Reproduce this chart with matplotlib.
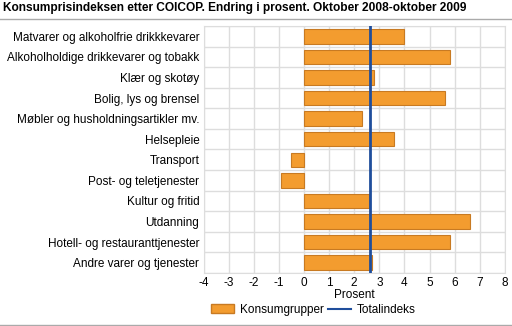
import matplotlib.pyplot as plt
import numpy as np
from matplotlib.lines import Line2D
from matplotlib.patches import Patch

categories = [
    "Matvarer og alkoholfrie drikkkevarer",
    "Alkoholholdige drikkevarer og tobakk",
    "Klær og skotøy",
    "Bolig, lys og brensel",
    "Møbler og husholdningsartikler mv.",
    "Helsepleie",
    "Transport",
    "Post- og teletjenester",
    "Kultur og fritid",
    "Utdanning",
    "Hotell- og restauranttjenester",
    "Andre varer og tjenester",
]
konsumgrupper = [4.0, 5.8, 2.8, 5.6, 2.3, 3.6, -0.5, -0.9, 2.6, 6.6, 5.8, 2.7]
totalindeks = 2.65
xticks = list(range(-4, 9))

plt.rcParams['font.family'] = ['Liberation Sans', 'DejaVu Sans']
fs = 8.5

fig = plt.figure(figsize=(5.12, 3.26), dpi=100)
ax = fig.add_axes([0.3975, 0.163, 0.5885, 0.757])

y = np.arange(len(categories))
ax.barh(y, konsumgrupper, height=0.7, color='#F39C2F', edgecolor='#C87A22', linewidth=0.8, zorder=3)
ax.axvline(totalindeks, color='#1F4E9C', linewidth=2, zorder=4)

ax.set_xlim(-4, 8)
ax.set_ylim(len(categories) - 0.5, -0.5)
ax.set_xticks(xticks)
ax.set_xticklabels([str(t) for t in xticks], fontsize=fs)
ax.set_yticks(y)
ax.set_yticklabels(categories, fontsize=fs)
ax.set_yticks(np.arange(len(categories) + 1) - 0.5, minor=True)
ax.tick_params(axis='both', which='both', length=0, pad=3)
ax.grid(axis='x', color='#DDDDDD', linewidth=1, zorder=0)
ax.grid(axis='y', which='minor', color='#DDDDDD', linewidth=1, zorder=0)
for s in ax.spines.values():
    s.set_color('#DDDDDD')
ax.set_xlabel("Prosent", fontsize=fs, labelpad=0)

handles = [Patch(facecolor='#F39C2F', edgecolor='#C87A22', label='Konsumgrupper'),
           Line2D([0], [0], color='#1F4E9C', linewidth=1.5, label='Totalindeks')]
fig.legend(handles=handles, loc='center', bbox_to_anchor=(0.612, 0.05), ncol=2,
           frameon=False, fontsize=fs, handlelength=1.9, columnspacing=0.4, handletextpad=0.5)

fig.text(0.006, 0.975, "Konsumprisindeksen etter COICOP. Endring i prosent. Oktober 2008-oktober 2009",
         fontsize=8.6, fontweight='bold', va='center', ha='left')
fig.add_artist(Line2D([0, 1], [0.942, 0.942], color='#AAAAAA', linewidth=1, transform=fig.transFigure))
fig.add_artist(Line2D([0, 1], [0.003, 0.003], color='#AAAAAA', linewidth=1, transform=fig.transFigure))

fig.savefig("out.png", dpi=100)
